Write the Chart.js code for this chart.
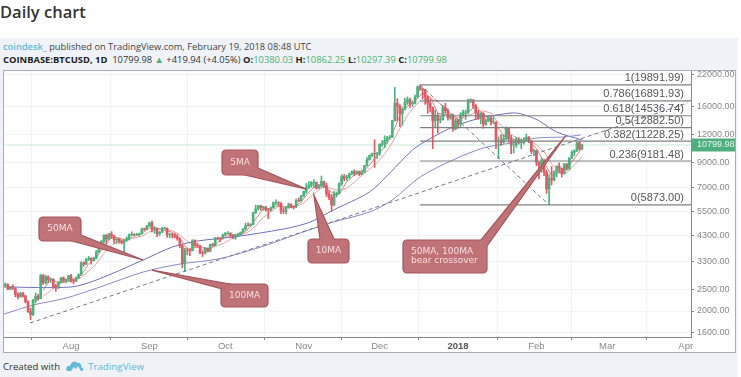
<!DOCTYPE html>
<html>
<head>
<meta charset="utf-8">
<title>Daily chart</title>
<script src="https://cdn.jsdelivr.net/npm/chart.js@4"></script>
<style>
	html, body { margin: 0; padding: 0; background: #fff; width: 741px; height: 377px; overflow: hidden; }
	body { position: relative; font-family: "Open Sans", sans-serif; }
	#title { position: absolute; left: 0; top: 0; font-size: 16.5px; font-weight: 600; color: #333; }
	#card { position: absolute; left: 0; top: 38px; width: 738px; height: 339px; background: #eff3f8; }
	#line1 { position: absolute; left: 3px; top: 40px; font-size: 9.3px; color: #444; white-space: nowrap; }
	#line1 b { color: #63b8d6; font-weight: 600; }
	#line2 { position: absolute; left: 3px; top: 53px; font-size: 9.4px; font-weight: 700; color: #222; white-space: nowrap; }
	#line2 i { font-style: normal; font-weight: 400; color: #4bb071; }
	#line2 span { font-weight: 400; color: #333; }
	#wrapper { position: absolute; left: 4px; top: 71px; width: 731px; height: 281px; background: #fff; outline: 1px solid #aab; }
	#wrapper canvas { display: block; filter: blur(0.4px); }
	#created { position: absolute; left: 3px; top: 360px; font-size: 9.6px; color: #333; white-space: nowrap; }
	#logo { position: absolute; left: 66px; top: 360px; }
	#tv { position: absolute; left: 88px; top: 360px; font-size: 9.8px; color: #63b8d6; white-space: nowrap; }
</style>
</head>
<body>
<div id="title">Daily chart</div>
<div id="card"></div>
<div id="line1"><b>coindesk_</b> published on TradingView.com, February 19, 2018 08:48 UTC</div>
<div id="line2">COINBASE:BTCUSD, 1D &nbsp;<span>10799.98 <i>▲</i> +419.94 (+4.05%)</span> O:<i>10380.03</i> H:<i>10862.25</i> L:<i>10297.39</i> C:<i>10799.98</i></div>
<div id="wrapper"><canvas id="chart" width="731" height="281"></canvas></div>
<div id="created">Created with</div>
<svg id="logo" width="18" height="12" viewBox="0 0 18 12"><path d="M1 11 C-1 7 2 5 4 6 C5 2 9 0 11 3 C14 2 16 5 15 7 C18 8 18 11 15 11 Z" fill="#63b8d6"/><path d="M5 11 L8 7 L10 9 L12 6 L15 11 Z" fill="#eff3f8"/></svg>
<div id="tv">TradingView</div>

<script>
// x values are days counted from Aug 1 2017, first candle is Jul 6
const firstDay = -26;

const opens = [
	2600,2620,2500,2560,2510,2360,2310,2390,2330,2200,1990,1930,2230,2320,2270,2870,2670,2830,2750,2760,2560,2530,2680,2800,2720,2760,
	2860,2720,2710,2800,2890,3260,3220,3390,3420,3340,3420,3650,3850,4060,4320,4160,4380,4280,4120,4150,4070,4000,4100,4150,4340,4360,4350,4350,4390,4600,4580,
	4740,4900,4580,4630,4380,4450,4620,4630,4330,4340,4330,4250,4170,3880,3230,3710,3700,3690,4090,3910,3880,3610,3600,3780,3660,3930,3890,4200,4190,4170,
	4340,4400,4400,4310,4220,4320,4370,4440,4600,4770,4760,4820,5430,5640,5820,5700,5760,5600,5570,5700,6010,6010,5980,5530,5500,5750,5890,5770,5750,6150,6130,
	6450,6750,7030,7160,7380,7390,6960,7120,7460,7140,6570,6340,5860,6520,6600,7280,7850,7700,7790,8040,8250,8100,8240,8010,8200,8750,9280,9720,9910,9870,
	9950,10860,10930,11300,11640,11650,13800,16500,16000,14900,15500,16700,17100,16400,16500,17600,19500,19100,18900,17600,16500,15800,13800,14600,13900,14000,15800,15300,14200,14400,12700,
	13800,13400,14700,15100,15100,17100,17100,16100,15000,14300,14900,13300,13800,14200,13600,13600,11200,11200,11100,11500,12800,11500,10800,10800,11400,11100,11100,11400,11700,11200,10100,
	10200,9050,8830,9170,8180,6900,7700,7580,8240,8700,8530,8060,8900,8500,9450,10030,10170,11030,10380.03,
];
const highs = [
	2660,2640,2570,2610,2530,2410,2420,2420,2350,2220,2060,2250,2400,2370,2900,2900,2880,2860,2800,2780,2620,2700,2810,2830,2770,2880,
	2900,2770,2830,2920,3300,3300,3410,3480,3430,3460,3700,3880,4100,4340,4350,4400,4480,4330,4180,4190,4100,4130,4250,4380,4470,4390,4400,4410,4640,4650,4770,
	4930,4980,4720,4640,4490,4680,4700,4660,4410,4400,4400,4350,4200,3920,3780,3800,3750,4130,4120,3980,3900,3680,3820,3800,3950,3980,4220,4240,4220,4360,
	4450,4480,4440,4340,4350,4400,4470,4620,4880,4900,4860,5450,5860,5850,5860,5800,5780,5620,5760,6060,6190,6070,6020,5700,5770,5990,5950,5830,6230,6310,6470,
	6770,7300,7450,7460,7600,7420,7220,7880,7480,7320,6800,6540,6750,6700,7350,7990,8000,7950,8120,8300,8400,8300,8290,8380,8780,9500,9760,9960,11400,10000,
	10950,11300,11850,11800,11900,13900,19400,17300,16300,15800,17400,17600,17400,16900,17950,19700,19891.99,19150,19000,17800,17200,15900,15400,14900,14400,16100,16500,15600,14800,14800,14100,
	14000,15000,15400,15400,17200,17250,17100,16300,15400,15000,15000,14100,14600,14500,14400,13700,11750,12000,12000,13000,12850,11900,11400,11700,11650,11500,11650,12050,11750,11280,10400,
	10240,9080,9470,9370,8380,8000,8680,8300,8750,9000,8550,8950,8950,9500,10200,10300,11100,11230,10862.25,
];
const lows = [
	2560,2480,2480,2490,2310,2260,2300,2300,2170,1970,1830,1910,2170,2230,2260,2620,2630,2670,2680,2520,2440,2510,2660,2680,2660,2700,
	2680,2640,2690,2770,2880,3150,3200,3340,3220,3320,3400,3620,3840,3980,3950,4120,4180,3980,3960,3980,3950,3600,4060,4110,4300,4300,4310,4270,4370,4540,4560,
	4720,4470,4400,4260,4310,4430,4600,4220,4200,4200,4200,4100,3800,3100,2980,3540,3510,3680,3850,3830,3570,3480,3570,3640,3650,3860,3880,4120,4050,4150,
	4300,4370,4240,4170,4140,4300,4330,4430,4550,4740,4730,4790,5380,5570,5570,5560,5510,5110,5510,5680,5880,5800,5380,5390,5360,5680,5700,5630,5720,6060,6090,
	6380,6610,6930,7030,7000,6900,6940,7030,7000,6400,6200,5500,5830,6380,6580,7150,7500,7500,7690,8000,7900,8060,7900,7980,8170,8700,9280,9600,8600,9400,
	9700,10670,10500,11000,11450,11650,13800,13800,13000,13200,15500,16300,15800,16000,16400,17500,18800,17300,16300,14900,15100,10400,13000,12200,13500,13900,14900,13900,14000,12400,12600,
	12800,13000,14500,14000,14800,16600,15700,14000,14000,13400,12800,13200,13700,13200,13400,10400,9400,10750,11000,11400,11100,9900,9950,10550,10900,10400,10900,11350,11050,9900,9700,
	8750,7650,8200,7900,6600,5873,7200,7500,7820,8150,7800,8050,8350,8380,9400,9700,10100,10250,10297.39,
];
const closes = [
	2620,2500,2560,2510,2360,2310,2390,2330,2200,1990,1930,2230,2320,2270,2870,2670,2830,2750,2760,2560,2530,2680,2800,2720,2760,2860,
	2720,2710,2800,2890,3260,3220,3390,3420,3340,3420,3650,3850,4060,4320,4160,4380,4280,4120,4150,4070,4000,4100,4150,4340,4360,4350,4350,4390,4600,4580,4740,
	4900,4580,4630,4380,4450,4620,4630,4330,4340,4330,4250,4170,3880,3230,3710,3700,3690,4090,3910,3880,3610,3600,3780,3660,3930,3890,4200,4190,4170,4340,
	4400,4400,4310,4220,4320,4370,4440,4600,4770,4760,4820,5430,5640,5820,5700,5760,5600,5570,5700,6010,6010,5980,5530,5500,5750,5890,5770,5750,6150,6130,6450,
	6750,7030,7160,7380,7390,6960,7120,7460,7140,6570,6340,5860,6520,6600,7280,7850,7700,7790,8040,8250,8100,8240,8010,8200,8750,9280,9720,9910,9870,9950,
	10860,10930,11300,11640,11650,13800,16500,16000,14900,15500,16700,17100,16400,16500,17600,19500,19100,18900,17600,16500,15800,13800,14600,13900,14000,15800,15300,14200,14400,12700,13800,
	13400,14700,15100,15100,17100,17100,16100,15000,14300,14900,13300,13800,14200,13600,13600,11200,11200,11100,11500,12800,11500,10800,10800,11400,11100,11100,11400,11700,11200,10100,10200,
	9050,8830,9170,8180,6900,7700,7580,8240,8700,8530,8060,8900,8500,9450,10030,10170,11030,10380,10799.98,
];

// short moving averages, read every third day from Jul 21
const shortMaDays = [-11,-8,-5,-2,1,4,7,10,13,16,19,22,25,28,31,34,37,40,43,46,49,52,55,58,61,64,67,70,73,76,79,82,85,88,91,94,97,100,103,106,109,112,115,118,121,124,127,130,133,136,139,142,145,148,151,154,157,160,163,166,169,172,175,178,181,184,187,190,193,196,199,202];
const ma5 = [2472,2776,2656,2698,2754,2876,3236,3444,3860,4240,4200,4094,4260,4410,4642,4646,4542,4450,4194,3738,3820,3818,3716,4014,4260,4334,4332,4588,5084,5670,5666,5854,5754,5732,6050,6704,7184,7214,6674,6520,7444,7976,8160,8792,9746,10582,12064,14570,16040,16860,18320,17580,14920,14720,14480,13800,15080,16080,14720,13960,12760,11560,11480,11040,11300,10450,9086,7906,8150,8538,9410,10482];
const ma10 = [2320,2462,2624,2706,2710,2820,3003,3230,3593,3888,4104,4173,4192,4271,4476,4550,4611,4519,4338,4057,3896,3730,3785,3885,4016,4205,4316,4459,4737,5174,5480,5779,5741,5789,5890,6283,6715,7084,6938,6785,6965,7399,7946,8438,9003,9877,11063,12753,14609,16100,17220,17500,16730,15620,14450,14220,14580,15010,15270,14940,13510,12630,11810,11330,11480,10805,10093,8891,8288,8129,8816,9585];

const ma50Days = [-26.5,0,10,28.5,40,50,64,84,94.6,103.7,118,126,135,141,151,162,174,178,184.4,192,202];
const ma50 = [2553,2553,2740,3357,3830,4072,4241,4600,4939,5579,6699,8126,10265,11363,12973,14212,14951,14806,13926,12327,11363];
const ma100Days = [-26.5,-15,-2,11.5,28.5,43,58,75,90.6,103.7,118,127,138,151,163,174,184.4,195,201.5];
const ma100 = [1939,2125,2281,2553,2970,3223,3390,3830,4415,4939,5467,6178,7801,9273,10476,11024,11600,11717,11955];

// fibonacci retracement
const fibRatios = ["1","0.786","0.618","0.5","0.382","0.236","0"];
const fibPrices = [19891.99,16891.93,14536.74,12882.50,11228.25,9181.48,5873.00];
const fibDays = [138,245.1];

// dashed drawings
const trendDays = [-16.2,243.8];
const trendPrices = [1771,16550];
const swingDays = [138,189];
const swingPrices = [19891.99,5873];

const xTickDays = [0,31,61,92,122,153,184,212,243];
const xTickLabels = ["Aug","Sep","Oct","Nov","Dec","2018","Feb","Mar","Apr"];
const yTicks = [22000,16000,12000,9000,7000,5500,4300,3300,2500,2000,1600];

const xMin = -26.5;
const xMax = 245.1;
const lastPrice = closes[closes.length - 1];

const UP = "#4cb27f";
const DOWN = "#dd5a66";

const toPoints = (xs, ys) => xs.map((x, i) => ({ x: x, y: ys[i] }));
const candleColor = (ctx) => (closes[ctx.dataIndex] >= opens[ctx.dataIndex] ? UP : DOWN);
const is2018 = (c) => c.tick && c.tick.label === "2018";

const lineSet = (xs, ys, color, extra) =>
	Object.assign(
		{
			type: "line",
			data: toPoints(xs, ys),
			borderColor: color,
			borderWidth: 1,
			pointRadius: 0,
			fill: false,
			tension: 0,
		},
		extra
	);

let datasets = [
	lineSet([xMin, xMax], [lastPrice, lastPrice], "rgba(76,178,127,0.3)", {}),
	lineSet(trendDays, trendPrices, "#77778a", { borderDash: [4, 3] }),
	lineSet(swingDays, swingPrices, "#77778a", { borderDash: [4, 3] }),
];
fibPrices.forEach((p) => {
	datasets.push(lineSet(fibDays, [p, p], "#808080", { borderWidth: 1.2 }));
});
datasets.push(
	{
		type: "bar",
		data: toPoints(closes.map((_, i) => firstDay + i), lows.map((l, i) => [l, highs[i]])),
		backgroundColor: candleColor,
		barThickness: 1,
		grouped: false,
	},
	{
		type: "bar",
		data: toPoints(closes.map((_, i) => firstDay + i), opens.map((o, i) => [o, closes[i]])),
		backgroundColor: candleColor,
		barThickness: 2,
		grouped: false,
	},
	lineSet(ma100Days, ma100, "#8a8ac4", { tension: 0.3 }),
	lineSet(ma50Days, ma50, "#6f6fc0", { tension: 0.3 }),
	lineSet(shortMaDays, ma10, "#eaa39c", {}),
	lineSet(shortMaDays, ma5, "#e67f7f", {})
);

// TradingView drawings, box and tail base are in canvas pixels
const callouts = [
	{ lines: ["5MA"], box: [218, 79, 36, 25], base: [[254, 97], [241, 104]], tipDay: 93, tipPrice: 6900 },
	{ lines: ["50MA"], box: [35, 146, 42, 24], base: [[77, 164], [68, 170]], tipDay: 28.5, tipPrice: 3357 },
	{ lines: ["100MA"], box: [217, 213, 47, 23], base: [[218, 218], [226, 213]], tipDay: 32, tipPrice: 3032 },
	{ lines: ["10MA"], box: [304, 168, 41, 24], base: [[316, 168], [330, 168]], tipDay: 96, tipPrice: 6498 },
	{ lines: ["50MA, 100MA", "bear crossover"], box: [399, 169, 84, 33], base: [[477, 169], [483, 175]], tipDay: 195.5, tipPrice: 11836 },
];

const drawingsPlugin = {
	id: "drawings",
	afterDatasetsDraw(chart) {
		const { ctx, chartArea, scales } = chart;
		const x = scales.x;
		const y = scales.y;
		ctx.save();

		// fib labels
		ctx.font = "11px 'Liberation Sans'";
		ctx.fillStyle = "#555";
		ctx.textAlign = "right";
		ctx.textBaseline = "bottom";
		fibPrices.forEach((p, i) => {
			ctx.fillText(fibRatios[i] + "(" + p.toFixed(2) + ")", 680, y.getPixelForValue(p) - 1);
		});

		// callouts
		callouts.forEach((c) => {
			const [bx, by, bw, bh] = c.box;
			ctx.fillStyle = "#bf7377";
			ctx.strokeStyle = "#a5565b";
			ctx.lineWidth = 1.2;
			ctx.beginPath();
			ctx.roundRect(bx, by, bw, bh, 4);
			ctx.fill();
			ctx.stroke();
			ctx.beginPath();
			ctx.moveTo(c.base[0][0], c.base[0][1]);
			ctx.lineTo(x.getPixelForValue(c.tipDay), y.getPixelForValue(c.tipPrice));
			ctx.lineTo(c.base[1][0], c.base[1][1]);
			ctx.closePath();
			ctx.fill();
			ctx.stroke();
			// hide the seam where the tail meets the box
			ctx.beginPath();
			ctx.moveTo(c.base[0][0], c.base[0][1]);
			ctx.lineTo(c.base[1][0], c.base[1][1]);
			ctx.lineWidth = 2;
			ctx.strokeStyle = "#bf7377";
			ctx.stroke();

			ctx.fillStyle = "#f7dfdf";
			ctx.font = "9px 'DejaVu Sans'";
			ctx.textBaseline = "middle";
			if (c.lines.length === 1) {
				ctx.textAlign = "center";
				ctx.fillText(c.lines[0], bx + bw / 2, by + bh / 2);
			} else {
				ctx.textAlign = "left";
				ctx.fillText(c.lines[0], bx + 8, by + 12);
				ctx.fillText(c.lines[1], bx + 8, by + 21);
			}
		});

		// last price tag on the axis
		const tagY = y.getPixelForValue(lastPrice);
		ctx.fillStyle = "#4fae80";
		ctx.fillRect(chartArea.right, tagY - 6.5, 45, 13);
		ctx.fillStyle = "#e8f6ee";
		ctx.font = "9px 'Liberation Sans'";
		ctx.textAlign = "left";
		ctx.textBaseline = "middle";
		ctx.fillText(lastPrice.toFixed(2), chartArea.right + 6, tagY);

		ctx.restore();
	},
};

let ctx = document.getElementById("chart").getContext("2d");

new Chart(ctx, {
	data: { datasets: datasets },
	plugins: [drawingsPlugin],
	options: {
		responsive: false,
		animation: false,
		layout: { autoPadding: false, padding: 0 },
		scales: {
			x: {
				type: "linear",
				min: xMin,
				max: xMax,
				offset: false,
				afterBuildTicks: (scale) => {
					scale.ticks = xTickDays.map((v) => ({ value: v }));
				},
				afterFit: (scale) => {
					scale.height = 15;
					scale.paddingLeft = 0;
					scale.paddingRight = 0;
				},
				ticks: {
					autoSkip: false,
					maxRotation: 0,
					padding: 1,
					color: (c) => (is2018(c) ? "#555" : "#888"),
					font: (c) => ({
						family: "Liberation Sans",
						size: 9.5,
						weight: is2018(c) ? "bold" : "normal",
					}),
					callback: (v) => xTickLabels[xTickDays.indexOf(v)],
				},
				grid: { color: "#f1f3f7", tickColor: "#888", tickLength: 3 },
				border: { color: "#888" },
			},
			y: {
				type: "logarithmic",
				position: "right",
				min: 1536,
				max: 22900,
				afterBuildTicks: (scale) => {
					scale.ticks = yTicks.map((v) => ({ value: v }));
				},
				afterFit: (scale) => {
					scale.width = 44;
					scale.paddingTop = 0;
					scale.paddingBottom = 0;
				},
				ticks: {
					autoSkip: false,
					padding: 3,
					color: "#888",
					font: { family: "Liberation Sans", size: 9 },
					callback: (v) => Number(v).toFixed(2),
				},
				grid: { color: "#f1f3f7", tickColor: "#888", tickLength: 3 },
				border: { color: "#888" },
			},
		},
		plugins: {
			legend: { display: false },
			title: { display: false },
			tooltip: { enabled: false },
		},
	},
});
</script>
</body>
</html>
